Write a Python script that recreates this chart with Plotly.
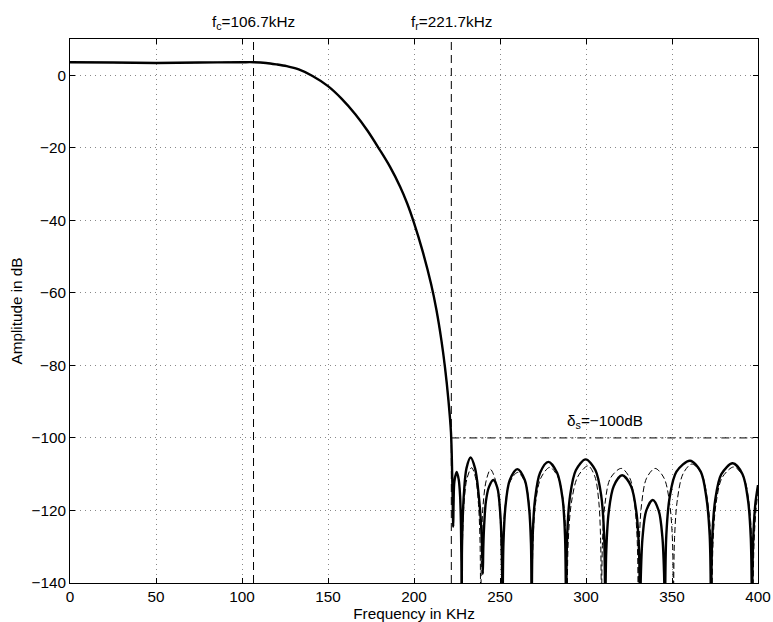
import plotly.graph_objects as go

# ---- data ----
fc = 106.7
fr = 221.7
delta_s = -100

# transition band (shared by both designs)
trans_f = [0, 25, 50, 75, 100, 107, 114, 120, 126, 133, 141, 150, 158, 166, 173, 180, 186, 192, 196, 200, 205, 210, 213, 216, 218, 220, 221.5, 222.2]
trans_db = [3.6, 3.5, 3.4, 3.5, 3.6, 3.6, 3.4, 3.0, 2.5, 1.6, -0.2, -3.0, -6.5, -10.8, -15.3, -20.5, -25.2, -30.8, -35.3, -40.7, -48.5, -57.7, -64.6, -73.3, -80.5, -89.5, -98.5, -110.0]

# stopband of design 1 (thick solid)
solid_f = [222.8, 223.0, 223.5, 224.8, 226.0, 226.8, 227.3, 227.6, 227.7,
           227.85, 228.2, 229.0, 230.5, 232.9, 235.5, 237.6, 239.0, 239.7, 240.0,
           240.3, 240.8, 241.8, 243.6, 246.1, 248.5, 250.1, 251.0, 251.4, 251.5,
           251.6, 252.0, 253.2, 255.7, 260.1, 264.4, 266.8, 268.0, 268.3, 268.4,
           268.5, 269.0, 270.4, 273.3, 278.1, 283.2, 286.4, 287.8, 288.3, 288.4,
           288.5, 289.1, 290.7, 294.1, 299.8, 305.5, 308.9, 310.5, 311.1, 311.2,
           311.3, 311.8, 313.2, 316.1, 321.0, 326.2, 329.3, 330.8, 331.3, 331.4,
           331.5, 331.9, 332.9, 335.0, 338.8, 342.3, 344.4, 345.4, 345.8, 345.9,
           346.0, 346.7, 348.6, 352.6, 360.5, 366.7, 370.0, 371.9, 372.6, 372.7,
           372.8, 373.4, 375.1, 378.7, 385.3, 391.0, 394.2, 395.8, 396.4, 396.5,
           396.6, 397.2, 398.5, 400.0]
solid_db = [-124.5, -118.0, -112.0, -109.4, -111.5, -116.0, -124.0, -135.0, -160.0,
            -132.0, -124.0, -115.5, -108.4, -105.4, -108.4, -115.6, -124.0, -132.0, -137.5,
            -130.0, -124.0, -117.5, -113.5, -111.6, -113.8, -120.5, -130.0, -145.0, -160.0,
            -145.0, -129.0, -118.8, -111.6, -108.6, -111.6, -118.8, -129.0, -145.0, -160.0,
            -145.0, -127.0, -116.8, -109.6, -106.6, -109.6, -116.8, -127.0, -145.0, -160.0,
            -145.0, -126.4, -116.1, -108.9, -105.9, -108.9, -116.1, -126.4, -145.0, -160.0,
            -145.0, -130.8, -120.5, -113.3, -110.3, -113.3, -120.5, -130.8, -145.0, -160.0,
            -150.0, -137.6, -127.3, -120.1, -117.1, -120.1, -127.3, -137.6, -150.0, -160.0,
            -145.0, -126.8, -116.5, -109.3, -106.3, -109.3, -116.5, -126.8, -145.0, -160.0,
            -145.0, -127.5, -117.2, -110.0, -107.0, -110.0, -117.2, -127.5, -145.0, -160.0,
            -145.0, -128.0, -118.0, -113.0]

# stopband of design 2 (thin dashed)
dash_f = [222.8, 223.0, 223.5, 224.8, 226.0, 226.8, 227.3, 227.6, 227.7,
          227.8, 228.2, 229.0, 230.8, 233.5, 235.9, 237.5, 238.4, 238.7, 238.8,
          238.9, 239.3, 240.1, 242.0, 244.5, 247.4, 249.7, 250.6, 250.9, 251.0,
          251.1, 251.6, 252.8, 255.4, 260.3, 264.8, 267.2, 268.2, 268.5, 268.6,
          268.7, 269.2, 270.6, 273.7, 279.0, 284.0, 287.0, 288.4, 288.9, 289.0,
          289.1, 289.7, 291.5, 295.2, 301.2, 305.2, 307.5, 308.5, 308.9, 309.0,
          309.1, 309.6, 311.0, 314.2, 320.5, 325.5, 328.3, 329.8, 330.3, 330.4,
          330.5, 331.0, 332.3, 335.2, 340.2, 345.4, 348.7, 350.3, 350.7, 350.8,
          350.9, 351.5, 353.1, 356.4, 361.5, 367.2, 370.6, 372.5, 373.1, 373.2,
          373.3, 373.9, 375.6, 379.2, 386.0, 391.7, 394.8, 396.3, 396.9, 397.0,
          397.1, 397.7, 398.8, 400.0]
dash_db = [-124.5, -118.0, -112.0, -109.4, -111.5, -116.0, -124.0, -135.0, -160.0,
           -145.0, -128.7, -118.4, -111.2, -108.2, -111.2, -118.4, -128.7, -145.0, -160.0,
           -145.0, -129.2, -118.9, -111.7, -108.7, -111.7, -118.9, -129.2, -145.0, -160.0,
           -145.0, -130.0, -119.7, -112.5, -109.5, -112.5, -119.7, -130.0, -145.0, -160.0,
           -145.0, -128.6, -118.3, -111.1, -108.1, -111.1, -118.3, -128.6, -145.0, -160.0,
           -145.0, -128.2, -117.9, -110.7, -107.7, -110.7, -117.9, -128.2, -145.0, -160.0,
           -145.0, -128.6, -118.3, -111.1, -108.4, -111.1, -118.3, -128.6, -145.0, -160.0,
           -145.0, -128.6, -118.3, -111.1, -108.4, -111.1, -118.3, -128.6, -145.0, -160.0,
           -145.0, -127.4, -117.1, -109.9, -107.2, -109.9, -117.1, -127.4, -145.0, -160.0,
           -145.0, -128.4, -118.1, -110.9, -108.0, -110.9, -118.1, -128.4, -145.0, -160.0,
           -145.0, -129.0, -120.0, -115.0]

x_ticks = [0, 50, 100, 150, 200, 250, 300, 350, 400]
y_ticks = [0, -20, -40, -60, -80, -100, -120, -140]
x_range = [0, 400]
y_range = [-140, 10]

FONT = "Liberation Sans, Arial, Helvetica, sans-serif"
FS = 15.3

fig = go.Figure()

# dashed design (thin)
fig.add_trace(go.Scatter(x=trans_f + dash_f, y=trans_db + dash_db, mode="lines",
                         line=dict(color="black", width=1, dash="6px,3px",
                                   shape="spline", smoothing=0.9),
                         hoverinfo="skip", showlegend=False))
# solid design (thick)
fig.add_trace(go.Scatter(x=trans_f + solid_f, y=trans_db + solid_db, mode="lines",
                         line=dict(color="black", width=2.4, shape="spline", smoothing=0.9),
                         hoverinfo="skip", showlegend=False))

# vertical markers at fc and fr
for xv in (fc, fr):
    fig.add_trace(go.Scatter(x=[xv, xv], y=y_range, mode="lines",
                             line=dict(color="black", width=1, dash="8px,5px"),
                             hoverinfo="skip", showlegend=False))
# stopband level line
fig.add_trace(go.Scatter(x=[fr, x_range[1]], y=[delta_s, delta_s], mode="lines",
                         line=dict(color="black", width=1, dash="8px,4px,2px,4px"),
                         hoverinfo="skip", showlegend=False))

fig.add_annotation(x=fc, y=1, yref="paper", yanchor="bottom", yshift=5,
                   text="f<sub>c</sub>=106.7kHz", showarrow=False,
                   font=dict(family=FONT, size=FS, color="black"))
fig.add_annotation(x=fr, y=1, yref="paper", yanchor="bottom", yshift=5,
                   text="f<sub>r</sub>=221.7kHz", showarrow=False,
                   font=dict(family=FONT, size=FS, color="black"))
fig.add_annotation(x=311, y=delta_s, yanchor="bottom", yshift=5,
                   text="δ<sub>s</sub>=−100dB", showarrow=False,
                   font=dict(family=FONT, size=FS, color="black"))

axis_common = dict(showline=True, linecolor="black", linewidth=1, mirror="ticks",
                   ticks="inside", ticklen=5, tickcolor="black", tickwidth=1,
                   showgrid=True, gridcolor="#888888", gridwidth=1, griddash="1px,4px",
                   zeroline=False, automargin=False,
                   tickfont=dict(family=FONT, size=FS, color="black"))

fig.update_xaxes(range=x_range, tickvals=x_ticks, ticktext=[str(v) for v in x_ticks],
                 title=dict(text="Frequency in KHz", standoff=0,
                            font=dict(family=FONT, size=FS, color="black")),
                 **axis_common)
fig.update_yaxes(range=y_range, tickvals=y_ticks,
                 ticktext=[str(v).replace("-", "−") for v in y_ticks],
                 title=dict(text="Amplitude in dB", standoff=5,
                            font=dict(family=FONT, size=FS, color="black")),
                 **axis_common)

fig.update_layout(width=773, height=622, margin=dict(l=70, r=15, t=39, b=39, autoexpand=False),
                  paper_bgcolor="white", plot_bgcolor="white", showlegend=False,
                  font=dict(family=FONT, size=FS, color="black"))

fig.write_html("out.html")
